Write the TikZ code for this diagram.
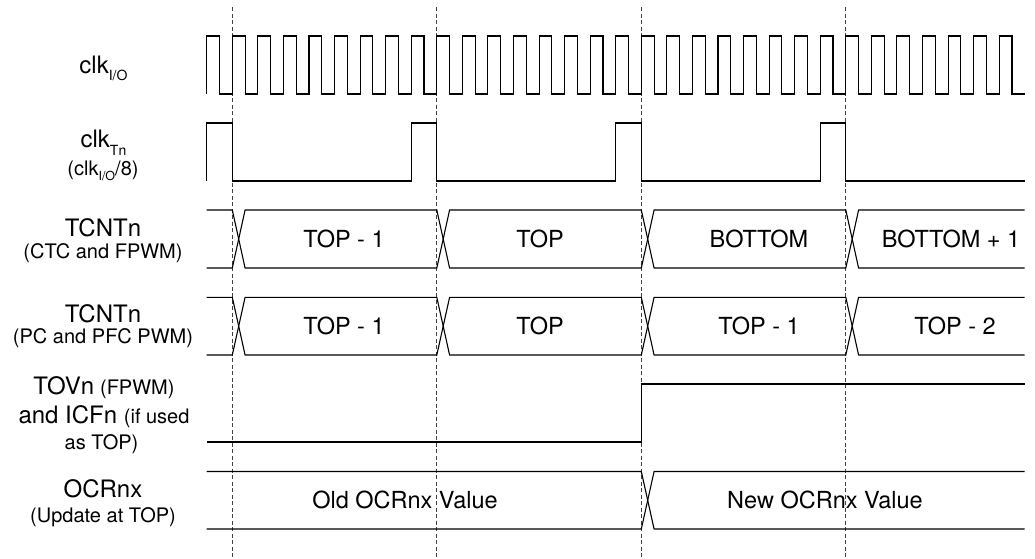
\documentclass[tikz,border=0pt]{standalone}
\usepackage{fontspec}
\setmainfont{TeX Gyre Heros}
\newcommand\bigf{\fontsize{24}{28}\selectfont}
\newcommand\smallf{\fontsize{20}{24}\selectfont}
\newcommand\subf{\fontsize{14}{16}\selectfont}
\newcommand\ssubf{\fontsize{12.5}{14}\selectfont}
\newcommand\busrow[2]{%
  \draw[sig] (206.74,#1) -- (232.3,#1) -- (245.08,#2) -- (436.8,#2) -- (449.58,#1) -- (641.3,#1) -- (654.08,#2) -- (845.8,#2) -- (858.58,#1) -- (1024.7,#1);
  \draw[sig] (206.74,#2) -- (232.3,#2) -- (245.08,#1) -- (436.8,#1) -- (449.58,#2) -- (641.3,#2) -- (654.08,#1) -- (845.8,#1) -- (858.58,#2) -- (1024.7,#2);}
\begin{document}
\begin{tikzpicture}[x=1pt,y=-1pt,
  sig/.style={line width=1.1pt, line join=miter},
  gridline/.style={dash pattern=on 4pt off 2.5pt, line width=0.7pt, black!75},
  lbl/.style={inner sep=0pt, anchor=base},
  val/.style={font=\fontsize{23.5}{28}\selectfont, inner sep=0pt, anchor=base}]
\useasboundingbox (0,0) rectangle (1035,558);
% dashed time markers
\foreach \x [count=\i] in {232.3,436.8,641.3,845.8}{
  \coordinate (gt\i) at (\x,7);
  \coordinate (gb\i) at (\x,558);
  \draw[gridline] (gt\i) -- (gb\i);
}
% clk I/O
\def\p{25.5625}\def\h{12.78}\def\xo{206.74}
\draw[sig] (\xo,94) \foreach \k in {0,...,31}{ -- ({\xo+\k*\p},94) -- ({\xo+\k*\p},36) -- ({\xo+\k*\p+\h},36) -- ({\xo+\k*\p+\h},94)} -- (1024.7,94);
% clk Tn
\draw[sig] (206.74,181) -- (206.74,123) -- (232.3,123) -- (232.3,181) -- (411.24,181) -- (411.24,123) -- (436.8,123) -- (436.8,181) -- (615.74,181) -- (615.74,123) -- (641.3,123) -- (641.3,181) -- (820.24,181) -- (820.24,123) -- (845.8,123) -- (845.8,181) -- (1024.7,181);
% TCNTn rows
\busrow{210}{268}
\busrow{297.3}{355}
% TOVn
\draw[sig] (206.74,442) -- (641.3,442) -- (641.3,384) -- (1024.7,384);
% OCRnx
\draw[sig] (206.74,471.5) -- (641.3,471.5) -- (654.08,529) -- (1024.7,529);
\draw[sig] (206.74,529) -- (641.3,529) -- (654.08,471.5) -- (1024.7,471.5);
% values
\node[val] (v11) at (344,247.5) {TOP - 1};
\node[val] (v12) at (540,247.5) {TOP};
\node[val] (v13) at (759,247.5) {BOTTOM};
\node[val] (v14) at (951,247.5) {BOTTOM + 1};
\node[val] (v21) at (344,334.5) {TOP - 1};
\node[val] (v22) at (540,334.5) {TOP};
\node[val] (v23) at (759,334.5) {TOP - 1};
\node[val] (v24) at (955,334.5) {TOP - 2};
\node[val] (v31) at (405,508.5) {Old OCRnx Value};
\node[val] (v32) at (825,508.5) {New OCRnx Value};
% labels
\node[lbl] (l1) at (103.5,73.5) {\bigf clk\raisebox{-6.5pt}{\subf I/O}};
\node[lbl] (l2a) at (103.5,147) {\bigf clk\raisebox{-8pt}{\subf Tn}};
\node[lbl] (l2b) at (103,175) {\smallf (clk\raisebox{-5pt}{\ssubf I/O}/8)};
\node[lbl] (l3a) at (103,236) {\bigf TCNTn};
\node[lbl] (l3b) at (103,258) {\smallf (CTC and FPWM)};
\node[lbl] (l4a) at (103,322) {\bigf TCNTn};
\node[lbl] (l4b) at (103,343) {\smallf (PC and PFC PWM)};
\node[lbl] (l5a) at (104,394) {\bigf TOVn\hspace{6pt}\smallf (FPWM)};
\node[lbl] (l5b) at (104,423) {\bigf and ICFn \smallf (if used};
\node[lbl] (l5c) at (101.5,449) {\smallf as TOP)};
\node[lbl] (l6a) at (103,497) {\bigf OCRnx};
\node[lbl] (l6b) at (103,522) {\smallf (Update at TOP)};
\end{tikzpicture}
\end{document}
